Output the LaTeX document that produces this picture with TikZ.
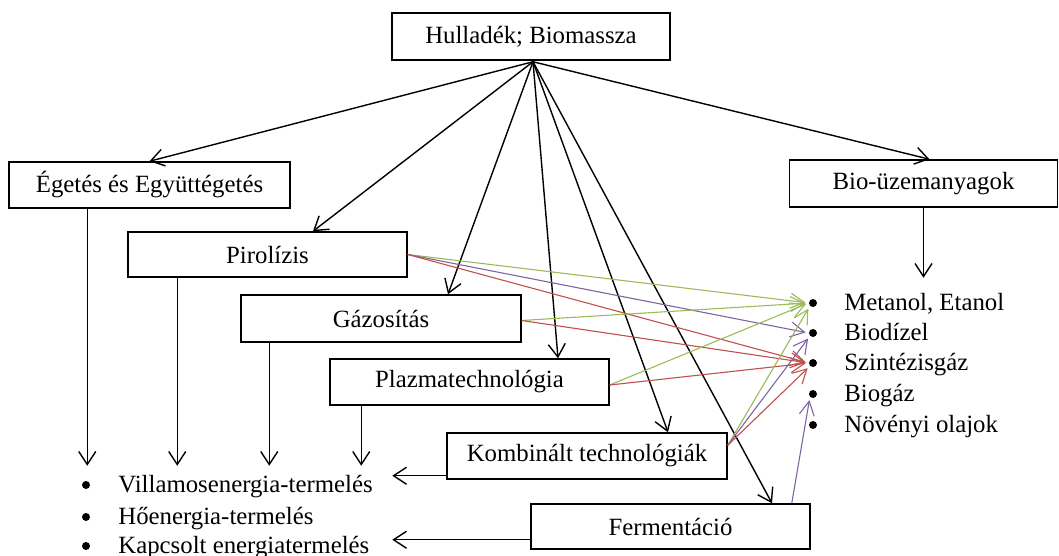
\documentclass[tikz,border=0pt]{standalone}
\usepackage{fontspec}
\setmainfont{Liberation Serif}
\usetikzlibrary{arrows.meta,calc}
\definecolor{flowgreen}{HTML}{9BBB59}
\definecolor{flowpurple}{HTML}{8064A2}
\definecolor{flowred}{HTML}{C0504D}
\begin{document}
\begin{tikzpicture}[x=0.5pt,y=-0.5pt,
  box/.style={draw, line width=0.75pt, minimum width=140pt, minimum height=23pt,
    inner sep=0pt, font=\fontsize{12.4}{14}\selectfont},
  arr/.style={-{Straight Barb[length=6.5pt,width=8.5pt]}, line width=0.7pt},
  carr/.style={-{Straight Barb[length=7pt,width=7.5pt]}, line width=0.55pt, shorten >=1.5pt},
  dot/.style={circle, fill, inner sep=0pt, minimum size=4pt},
  item/.style={anchor=base west, inner sep=0pt, font=\fontsize{12.4}{14}\selectfont}]
\useasboundingbox (0,0) rectangle (1059,556);

% process boxes
\node[box, minimum width=139pt, minimum height=23.5pt] (top) at (531,36.5) {Hulladék; Biomassza};
\node[box, minimum width=140.5pt] (eget) at (149.5,185) {Égetés és Együttégetés};
\node[box, minimum width=134pt, minimum height=23.5pt] (bio) at (923.5,183.5) {Bio-üzemanyagok};
\node[box, minimum width=139.5pt, minimum height=22.5pt] (piro) at (267.5,254.5) {Pirolízis};
\node[box, minimum height=23.5pt] (gaz) at (381,318.5) {Gázosítás};
\node[box, minimum width=139.5pt] (plaz) at (469.5,382) {Plazmatechnológia};
\node[box] (komb) at (587,456) {Kombinált technológiák};
\node[box, minimum width=139.5pt, minimum height=22.5pt] (ferm) at (670.5,526.5) {Fermentáció};

% output lists
\node[dot] (l1) at (86,485) {};
\node[dot] (l2) at (86,517) {};
\node[dot] (l3) at (86,546) {};
\node[item] (lt1) at ($(l1)+(32,7)$) {Villamosenergia-termelés};
\node[item] (lt2) at ($(l2)+(32,7)$) {Hőenergia-termelés};
\node[item] (lt3) at ($(l3)+(32,7)$) {Kapcsolt energiatermelés};

\node[dot] (r1) at (813,303) {};
\node[dot] (r2) at (813,333) {};
\node[dot] (r3) at (813,363) {};
\node[dot] (r4) at (813,394) {};
\node[dot] (r5) at (813,425) {};
\node[item] (rt1) at ($(r1)+(31,7)$) {Metanol, Etanol};
\node[item] (rt2) at ($(r2)+(31,7)$) {Biodízel};
\node[item] (rt3) at ($(r3)+(31,7)$) {Szintézisgáz};
\node[item] (rt4) at ($(r4)+(31,7)$) {Biogáz};
\node[item] (rt5) at ($(r5)+(31,7)$) {Növényi olajok};

% fan-out from the source box
\coordinate (hub) at ($(top.south)+(2,1)$);
\draw[arr] (hub) -- (eget.north);
\draw[arr] (hub) -- ($(piro.north)+(45.5,0)$);
\draw[arr] (hub) -- ($(gaz.north)+(67,0)$);
\draw[arr] (hub) -- ($(plaz.north)+(88.5,0)$);
\draw[arr] (hub) -- ($(komb.north)+(81,0)$);
\draw[arr] (hub) -- ($(ferm.north)+(101.5,0)$);
\draw[arr] (hub) -- ($(bio.north)+(6,0)$);

% energy outputs
\draw[arr] ($(eget.south west)+(79,0)$) -- ++(0,257);
\draw[arr] ($(piro.south west)+(50,0)$) -- ++(0,188);
\draw[arr] ($(gaz.south west)+(29,0)$) -- ++(0,123);
\draw[arr] ($(plaz.south west)+(32,0)$) -- ++(0,60);
\draw[arr] ($(komb.south west)+(0,-4)$) -- ++(-54,0);
\draw[arr] ($(ferm.south west)+(0,-10)$) -- ++(-138,0);
\draw[arr] (bio.south) -- ++(0,70);

% fuel outputs
\draw[carr, flowgreen]  (piro.east) -- (r1.west);
\draw[carr, flowpurple] (piro.east) -- (r2.west);
\draw[carr, flowred]    (piro.east) -- (r3.west);
\draw[carr, flowgreen]  ($(gaz.east)+(0,2)$) -- (r1.west);
\draw[carr, flowred]    ($(gaz.east)+(0,2)$) -- (r3.west);
\draw[carr, flowgreen]  ($(plaz.east)+(0,3)$) -- (r1.west);
\draw[carr, flowred]    ($(plaz.east)+(0,3)$) -- (r3.west);
\draw[carr, flowgreen]  ($(komb.north east)+(0,13)$) -- (r1.south west);
\draw[carr, flowpurple] ($(komb.north east)+(0,13)$) -- (r2.south west);
\draw[carr, flowred]    ($(komb.north east)+(0,13)$) -- (r3.south west);
\draw[carr, flowpurple] ($(ferm.north east)+(-19,0)$) -- (r4.south west);
\end{tikzpicture}
\end{document}
